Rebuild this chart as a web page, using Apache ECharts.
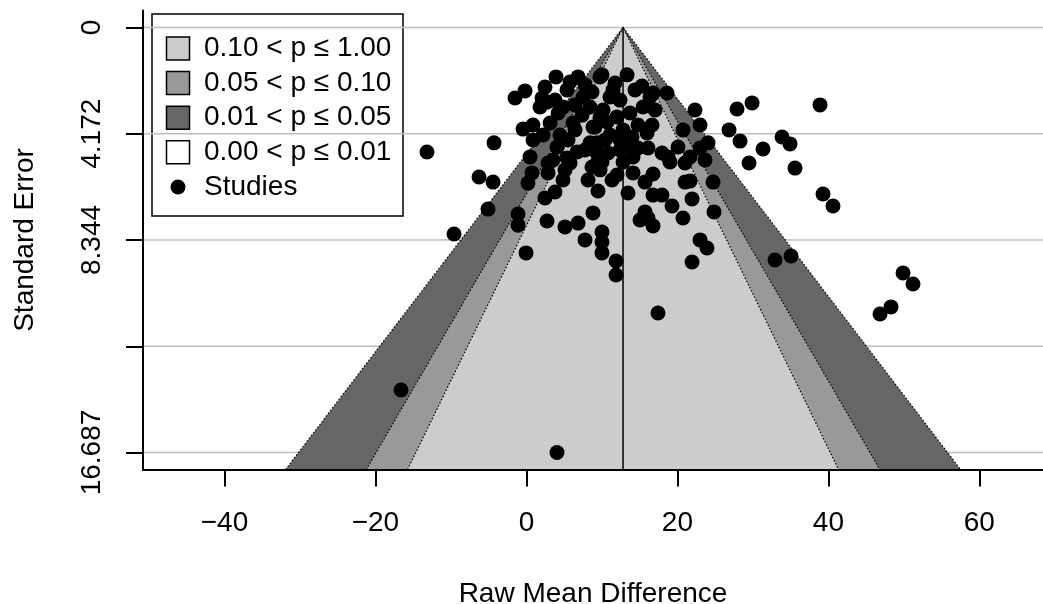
<!DOCTYPE html>
<html>
<head>
<meta charset="utf-8">
<script src="https://cdn.jsdelivr.net/npm/echarts@6/dist/echarts.min.js"></script>
<style>
  html, body { margin: 0; padding: 0; background: #fff; }
  #chart { width: 1043px; height: 604px; }
</style>
</head>
<body>
<div id="chart"></div>
<script>
// Study effects (raw mean difference) and their standard errors
const studyYi = [
  -1.51, -0.19, 2.46, 3.92, 2.07, 1.80, 2.73, 5.78, 6.84, 5.38, 7.76,
  -4.29, -0.45, 0.87, 0.87, 2.20, 3.13, 4.19, 4.85, 4.45, 4.05, 5.51, 6.17, 7.37, 7.50, 8.43, 9.09,
  0.48, 3.52, 5.38, 6.70, 8.43, 9.35, 9.75, 11.47,
  10.01, 13.33, 11.74, 15.31, 16.77, 18.63, 22.33, 23.00, 20.74, 20.08, 21.67, 23.00, 24.06, 23.66,
  17.96, 18.76, 16.11, 16.64, 15.45, 16.37, 8.69, 11.07, 12.40, 13.72, 12.00, 10.15, 8.82, 11.07,
  12.80, 13.99, 15.98, 9.35, 10.81, 12.40, 14.12, 9.35,
  29.89, 27.90, 38.89, 26.84, 28.30, 33.86, 34.92, 31.34, 29.49, 35.58, 24.72, 39.29, 40.61, 24.85,
  12.80, 9.75, 12.00, 11.34, 14.12, 16.77, 15.71, 13.46, 9.48, 16.77, 17.96, 19.29, 15.05, 16.11,
  15.71, 16.77, 8.82, 10.01, 10.01, 10.01, 11.87, 11.87, 21.01, 21.67, 21.94, 20.74, 23.00, 23.92,
  21.94, 21.01, 19.02, 10.01, 8.69,
  -6.28, -4.42, -5.09, -1.11, -1.11, 0.21, 0.74, 2.46, 2.73, 5.11, 3.79, 2.86, 2.86, 4.85, 5.11,
  5.78, 8.16, 6.84, 7.76, -0.05,
  -13.17, -9.59, -16.61, 4.05, 17.43, 32.93, 35.05, 49.89, 51.21, 48.30, 46.84,
  10.68, 12.40, 14.78, 7.76, 6.44, 3.79, 14.39, 17.04,
  9.75, 14.78, 13.46, 6.44, 10.41
];
const studySei = [
  2.77, 2.49, 2.34, 1.94, 2.77, 3.12, 2.93, 2.14, 1.94, 2.45, 2.26,
  4.53, 3.99, 3.83, 4.42, 4.22, 3.75, 3.36, 3.12, 4.22, 4.69, 4.42, 3.75, 3.44, 2.73, 3.12, 3.91,
  5.08, 5.20, 5.12, 4.89, 4.53, 5.32, 1.94, 2.45,
  1.86, 1.86, 2.18, 2.30, 2.57, 2.57, 3.24, 3.83, 4.02, 4.69, 5.08, 4.73, 4.53, 5.20,
  4.93, 5.08, 4.73, 3.83, 3.12, 2.73, 2.53, 2.73, 2.85, 3.36, 3.51, 3.24, 3.91, 4.22,
  4.02, 4.30, 4.14, 4.93, 4.93, 4.81, 5.08, 4.53,
  2.96, 3.20, 3.04, 4.02, 4.46, 4.30, 4.57, 4.77, 5.32, 5.52, 6.07, 6.54, 7.01, 7.24,
  5.28, 5.59, 5.79, 5.99, 5.71, 5.75, 6.07, 6.50, 6.42, 6.58, 6.58, 7.01, 7.56, 7.48,
  7.24, 7.79, 7.28, 8.03, 8.42, 8.85, 9.17, 9.72, 6.07, 6.03, 6.73, 7.48, 8.34, 8.66,
  9.21, 5.32, 5.28, 5.28, 5.48,
  5.87, 6.07, 7.13, 7.32, 7.76, 6.11, 5.71, 6.69, 7.60, 7.83, 6.46, 5.71, 5.32, 5.99, 5.59,
  5.32, 5.99, 7.68, 8.34, 8.85,
  4.89, 8.11, 14.23, 16.687, 11.21, 9.13, 8.97, 9.64, 10.07, 10.97, 11.25,
  3.71, 4.42, 4.73, 4.81, 3.04, 2.85, 2.45, 3.24,
  3.55, 3.83, 4.61, 4.02, 4.42
];

// Pooled estimate (centre of the funnel)
const pooledEstimate = 12.8;

// Contour levels: two-sided z cut-offs and their fills, widest first
const contourZ = [2.576, 1.960, 1.645];
const contourFill = ['#666666', '#999999', '#cccccc'];

// Legend entries (top to bottom)
const legendLabels = ['0.10 < p \u2264 1.00', '0.05 < p \u2264 0.10', '0.01 < p \u2264 0.05', '0.00 < p \u2264 0.01', 'Studies'];
const legendFill = ['#cccccc', '#999999', '#666666', '#ffffff'];

// Axis ticks and labels
const xTickValues = [-40, -20, 0, 20, 40, 60];
const yTickValues = [0, 4.172, 8.344, 12.516, 16.687];
const yLabelValues = [0, 4.172, 8.344, 16.687];
const yLabelText = ['0', '4.172', '8.344', '16.687'];

// Axis extents
const X_MIN = -50.79, X_MAX = 68.43;
const SE_MIN = -0.667, SE_MAX = 17.354;

const FONT = '"Liberation Sans", Arial, Helvetica, sans-serif';

const chart = echarts.init(document.getElementById('chart'), null, { renderer: 'canvas' });

const points = studyYi.map((v, i) => [v, studySei[i]]);

const option = {
  animation: false,
  backgroundColor: '#ffffff',
  grid: { left: 143, right: 0, top: 10.5, bottom: 134.5, containLabel: false, outerBoundsMode: 'none' },
  xAxis: {
    type: 'value', min: X_MIN, max: X_MAX, z: 10,
    name: 'Raw Mean Difference', nameLocation: 'middle', nameGap: 111,
    nameTextStyle: { fontFamily: FONT, fontSize: 28, color: '#000' },
    axisLine: { show: true, onZero: false, lineStyle: { color: '#000', width: 2 } },
    axisTick: { show: true, length: 17, customValues: xTickValues, lineStyle: { color: '#000', width: 2 } },
    axisLabel: {
      customValues: xTickValues, margin: 40, fontFamily: FONT, fontSize: 28, color: '#000',
      formatter: v => (v < 0 ? '\u2212' + Math.abs(v) : String(v))
    },
    splitLine: { show: false }
  },
  yAxis: {
    type: 'value', inverse: true, min: SE_MIN, max: SE_MAX, z: 10,
    name: 'Standard Error', nameLocation: 'middle', nameGap: 104, nameRotate: 90,
    nameTextStyle: { fontFamily: FONT, fontSize: 28, color: '#000' },
    axisLine: { show: true, onZero: false, lineStyle: { color: '#000', width: 2 } },
    axisTick: { show: true, length: 17, customValues: yTickValues, lineStyle: { color: '#000', width: 2 } },
    axisLabel: {
      customValues: yLabelValues, rotate: 90, margin: 37, fontFamily: FONT, fontSize: 28, color: '#000',
      formatter: v => {
        const k = yLabelValues.findIndex(t => Math.abs(t - v) < 1e-6);
        return k >= 0 ? yLabelText[k] : '';
      }
    },
    splitLine: { show: false }
  },
  series: [
    {
      // horizontal reference lines at the SE ticks
      type: 'custom', z: 1, silent: true,
      data: yTickValues.map(v => [v]),
      renderItem: (params, api) => {
        const v = api.value(0);
        const a = api.coord([X_MIN, v]);
        const b = api.coord([X_MAX, v]);
        return {
          type: 'line',
          shape: { x1: a[0], y1: a[1], x2: b[0], y2: b[1] },
          style: { stroke: '#bebebe', lineWidth: 1.5 }
        };
      }
    },
    {
      // contour-enhanced funnel regions
      type: 'custom', z: 2, silent: true,
      data: contourZ.map((z, i) => [z, i]),
      renderItem: (params, api) => {
        const z = api.value(0);
        const idx = api.value(1);
        const apex = api.coord([pooledEstimate, 0]);
        const bl = api.coord([pooledEstimate - z * SE_MAX, SE_MAX]);
        const br = api.coord([pooledEstimate + z * SE_MAX, SE_MAX]);
        return {
          type: 'group',
          children: [
            { type: 'polygon', shape: { points: [bl, apex, br] }, style: { fill: contourFill[idx], stroke: null } },
            { type: 'polyline', shape: { points: [bl, apex, br] },
              style: { stroke: '#000', lineWidth: 1.2, lineDash: [1.5, 2], fill: null } }
          ]
        };
      }
    },
    {
      // vertical line at the pooled estimate
      type: 'custom', z: 3, silent: true,
      data: [[pooledEstimate]],
      renderItem: (params, api) => {
        const a = api.coord([api.value(0), 0]);
        const b = api.coord([api.value(0), SE_MAX]);
        return {
          type: 'line',
          shape: { x1: a[0], y1: a[1], x2: b[0], y2: b[1] },
          style: { stroke: '#000', lineWidth: 1.5 }
        };
      }
    },
    {
      name: 'Studies',
      type: 'scatter', z: 4,
      symbol: 'circle', symbolSize: 15,
      itemStyle: { color: '#000', opacity: 1 },
      data: points
    }
  ],
  graphic: [
    {
      type: 'group', z: 100,
      children: [
        { type: 'rect', shape: { x: 152, y: 14, width: 251, height: 202 },
          style: { fill: '#fff', stroke: '#000', lineWidth: 1.5 } }
      ].concat(
        legendFill.map((c, i) => ({
          type: 'rect',
          shape: { x: 166.5, y: 37 + i * 34.6, width: 23, height: 23 },
          style: { fill: c, stroke: '#000', lineWidth: 1.5 }
        }))
      ).concat([
        { type: 'circle', shape: { cx: 178, cy: 187, r: 7.5 }, style: { fill: '#000' } }
      ]).concat(
        legendLabels.map((t, i) => ({
          type: 'text',
          style: {
            x: 204, y: 48.5 + i * 34.6, text: t,
            font: '28px ' + FONT, fill: '#000',
            textAlign: 'left', textVerticalAlign: 'middle',
            align: 'left', verticalAlign: 'middle'
          }
        }))
      )
    }
  ]
};

chart.setOption(option);
</script>
</body>
</html>
